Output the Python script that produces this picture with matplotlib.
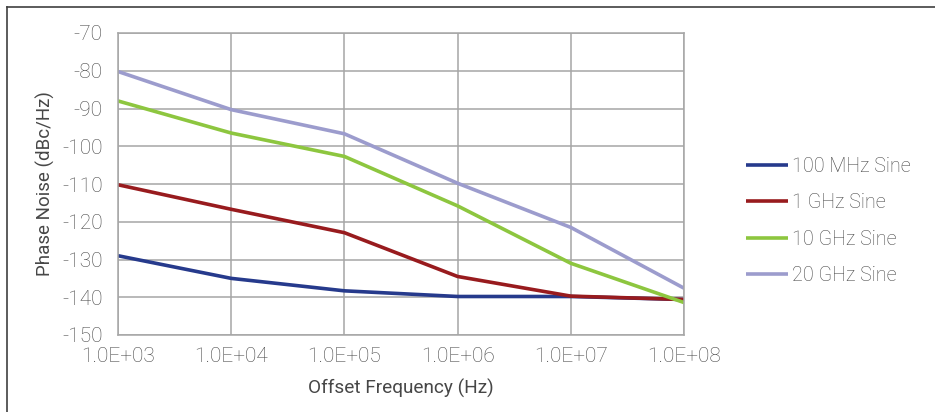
import matplotlib
matplotlib.use("Agg")
import matplotlib.pyplot as plt
from matplotlib.lines import Line2D

plt.rcParams['font.family'] = ['Roboto', 'DejaVu Sans']
plt.rcParams['font.weight'] = 'light'
plt.rcParams['axes.unicode_minus'] = False

# offset frequencies (Hz) and phase noise per carrier (dBc/Hz)
offsets = [1e3, 1e4, 1e5, 1e6, 1e7, 1e8]
x_labels = ['1.0E+03', '1.0E+04', '1.0E+05', '1.0E+06', '1.0E+07', '1.0E+08']
names = ['100 MHz Sine', '1 GHz Sine', '10 GHz Sine', '20 GHz Sine']
pn_100m = [-129.0, -135.0, -138.3, -139.8, -139.8, -140.6]
pn_1g = [-110.2, -116.7, -122.9, -134.5, -139.7, -140.6]
pn_10g = [-88.0, -96.5, -102.7, -115.8, -131.0, -141.4]
pn_20g = [-80.2, -90.3, -96.7, -109.8, -121.5, -137.6]
colors = ['#263A8C', '#981B1E', '#8DC63F', '#9C9CCD']

text_col = '#474747'
grid_col = '#A6A6A6'

fig = plt.figure(figsize=(9.35, 4.12), dpi=100)
ax = fig.add_axes([118/935, 1-335/412, (684-118)/935, (335-33)/412])

for vals, name, c in zip([pn_100m, pn_1g, pn_10g, pn_20g], names, colors):
    ax.plot(offsets, vals, color=c, lw=2.6, label=name, solid_capstyle='butt')

ax.set_xscale('log')
ax.set_xlim(1e3, 1e8)
ax.set_ylim(-150, -70)
ax.set_xticks(offsets)
ax.set_xticklabels(x_labels)
ax.minorticks_off()
ax.set_yticks(range(-150, -69, 10))
ax.grid(True, color=grid_col, lw=1.1)
ax.set_axisbelow(True)
for s in ax.spines.values():
    s.set_color(grid_col)
    s.set_linewidth(1.1)
ax.tick_params(axis='x', length=0, labelsize=15, labelcolor=text_col, pad=9)
ax.tick_params(axis='y', length=0, labelsize=15, labelcolor=text_col, pad=11)

ax.set_xlabel('Offset Frequency (Hz)', fontsize=13.7, color=text_col, labelpad=9)
ax.set_ylabel('Phase Noise (dBc/Hz)', fontsize=13.5, color=text_col, labelpad=5)

fig.legend(loc='upper left', bbox_to_anchor=(736/935, 1-147/412), frameon=False,
           fontsize=14.2, labelcolor=text_col, handlelength=2.13, handletextpad=0.2,
           labelspacing=0.88, borderpad=0)

# outer frame (top and left edges)
fig.add_artist(Line2D([7/935, 1], [1-7/412, 1-7/412], color='#404040', lw=1.2,
                      transform=fig.transFigure))
fig.add_artist(Line2D([7/935, 7/935], [0, 1-7/412], color='#404040', lw=1.2,
                      transform=fig.transFigure))

fig.savefig('out.png', dpi=100)
